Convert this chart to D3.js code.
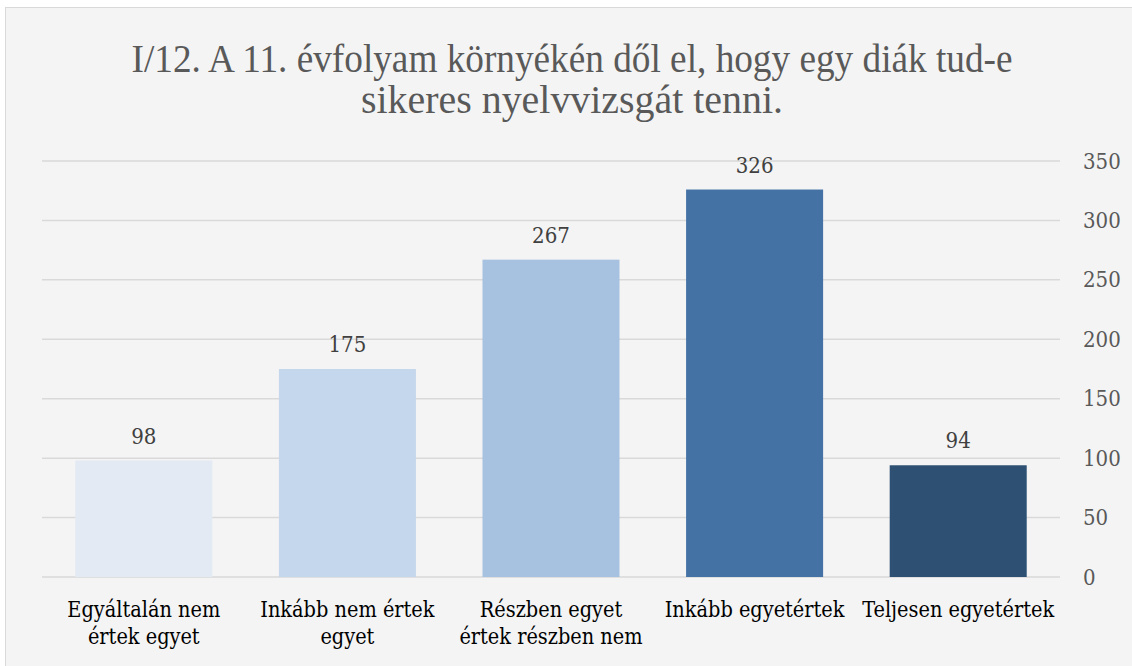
<!DOCTYPE html>
<html>
<head>
<meta charset="utf-8">
<script src="https://cdn.jsdelivr.net/npm/d3@7"></script>
<style>
  body { margin: 0; background: #fff; }
</style>
</head>
<body>
<div id="chart"></div>
<script>
// data
const categories = ["Egyáltalán nem|értek egyet", "Inkább nem értek|egyet", "Részben egyet|értek részben nem", "Inkább egyetértek", "Teljesen egyetértek"];
const values = [98, 175, 267, 326, 94];
const barColors = ["#e3eaf4", "#c5d7ec", "#a7c1e0", "#4472a4", "#2e5073"];
const yTicks = [0, 50, 100, 150, 200, 250, 300, 350];
const titleLines = ["I/12. A 11. évfolyam környékén dől el, hogy egy diák tud-e", "sikeres nyelvvizsgát tenni."];

const W = 1132, H = 666;
const margin = {top: 161, right: 72, bottom: 89, left: 42},
    width = W - margin.left - margin.right,
    height = H - margin.top - margin.bottom;

const svgRoot = d3.select("#chart")
  .append("svg")
    .attr("width", W)
    .attr("height", H);

// chart frame
svgRoot.append("rect")
  .attr("x", 5.5).attr("y", 7.5)
  .attr("width", W + 10).attr("height", H + 10)
  .attr("fill", "#f4f4f4")
  .attr("stroke", "#d9d9d9");

// title
svgRoot.append("g").selectAll("text")
  .data(titleLines)
  .join("text")
    .attr("x", 572)
    .attr("y", (d, i) => 72 + i * 41)
    .attr("text-anchor", "middle")
    .attr("textLength", (d, i) => i === 0 ? 881 : 422)
    .attr("lengthAdjust", "spacingAndGlyphs")
    .style("font-family", "'Liberation Serif', 'Times New Roman', serif")
    .style("font-size", "40px")
    .style("fill", "#595959")
    .text(d => d);

const svg = svgRoot.append("g")
  .attr("transform", `translate(${margin.left},${margin.top})`);

const x = d3.scaleBand()
  .domain(categories)
  .range([0, width])
  .paddingInner(0.327)
  .paddingOuter(0.1635);

const y = d3.scaleLinear()
  .domain([0, 350])
  .range([height, 0]);

// gridlines
svg.append("g").selectAll("line")
  .data(yTicks)
  .join("line")
    .attr("x1", 0).attr("x2", width)
    .attr("y1", d => y(d)).attr("y2", d => y(d))
    .attr("stroke", "#d9d9d9")
    .attr("stroke-width", 1.5);

const labelFont = "'DejaVu Serif', serif";

// right axis labels
const yAxis = svg.append("g")
  .attr("transform", `translate(${width},0)`)
  .call(d3.axisRight(y).tickValues(yTicks).tickSize(0).tickPadding(23));
yAxis.select(".domain").remove();
yAxis.selectAll("text")
  .style("font-family", labelFont)
  .style("font-stretch", "condensed")
  .style("font-size", "22px")
  .style("fill", "#595959");

// bars
svg.selectAll("rect.bar")
  .data(values)
  .join("rect")
    .attr("class", "bar")
    .attr("x", (d, i) => x(categories[i]))
    .attr("y", d => y(d))
    .attr("width", x.bandwidth())
    .attr("height", d => height - y(d))
    .attr("fill", (d, i) => barColors[i]);

// value labels
svg.selectAll("text.val")
  .data(values)
  .join("text")
    .attr("class", "val")
    .attr("x", (d, i) => x(categories[i]) + x.bandwidth() / 2)
    .attr("y", d => y(d) - 17)
    .attr("text-anchor", "middle")
    .style("font-family", labelFont)
    .style("font-stretch", "condensed")
    .style("font-size", "22px")
    .style("fill", "#404040")
    .text(d => d);

// category labels
const cat = svg.append("g").selectAll("text")
  .data(categories)
  .join("text")
    .attr("x", d => x(d) + x.bandwidth() / 2)
    .attr("y", height + 40)
    .attr("text-anchor", "middle")
    .style("font-family", labelFont)
    .style("font-stretch", "condensed")
    .style("font-size", "21.5px")
    .style("fill", "#000");
cat.selectAll("tspan")
  .data(d => d.split("|"))
  .join("tspan")
    .attr("x", function() { return this.parentNode.getAttribute("x"); })
    .attr("dy", (d, i) => i === 0 ? 0 : 27)
    .text(d => d);
</script>
</body>
</html>
